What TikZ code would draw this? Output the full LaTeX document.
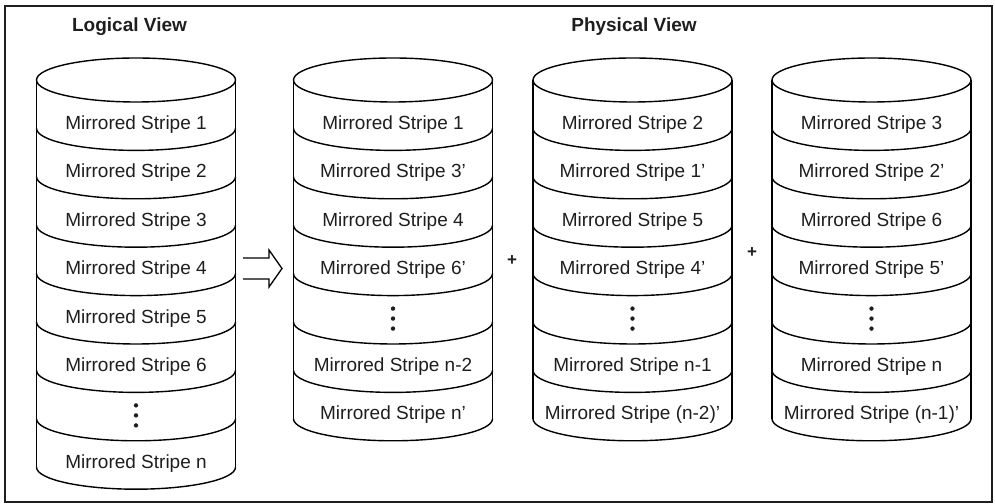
\documentclass[tikz,border=0pt]{standalone}
\usepackage{fontspec}
\setmainfont{Liberation Sans}
\definecolor{ink}{HTML}{1E1E1E}
\newcommand\drum[2]{% #1 centre x, #2 number of bands
  \draw[cyl] (#1,424) ellipse [x radius=99.5bp, y radius=22bp];
  \draw[cyl] (#1-99.5,424) -- ++(0,{-#2*48.4});
  \draw[cyl] (#1+99.5,424) -- ++(0,{-#2*48.4});
  \foreach \k in {1,...,#2}{%
    \draw[cyl] (#1-99.5,{424-\k*48.4}) arc[start angle=180,end angle=360,x radius=99.5bp,y radius=22bp];}
}
\newcommand\stripe[4]{\node[lbl] (#1) at (#2,{374.5-(#3-1)*48.4}) {#4};}
\newcommand\stripedots[3]{%
  \coordinate (#1) at (#2,{379-(#3-1)*48.4});
  \node[dotmark] (#1a) at ([yshift=10bp]#1) {};
  \node[dotmark] (#1b) at (#1) {};
  \node[dotmark] (#1c) at ([yshift=-10bp]#1) {};}
\begin{document}
\begin{tikzpicture}[x=1bp,y=1bp,
  cyl/.style={draw=black, line width=1.4bp},
  lbl/.style={anchor=base, inner sep=0pt, text=ink, font=\fontsize{19bp}{22bp}\selectfont},
  ttl/.style={anchor=base, inner sep=0pt, text=ink, font=\fontsize{19bp}{22bp}\selectfont\bfseries},
  plusmark/.style={inner sep=0pt, text=ink, font=\fontsize{17bp}{20bp}\selectfont\bfseries},
  dotmark/.style={circle, fill=ink, inner sep=0pt, minimum size=4.4bp}]
\useasboundingbox (0,0) rectangle (995,504);
\draw[line width=1.8bp, draw=ink] (5,2) rectangle (992,498);

% titles
\node[ttl] (tlog) at (129.5,472) {Logical View};
\node[ttl] (tphys) at (634,472) {Physical View};

% logical cylinder
\drum{136}{8}
\stripe{L1}{136}{1}{Mirrored Stripe 1}
\stripe{L2}{136}{2}{Mirrored Stripe 2}
\stripe{L3}{136}{3}{Mirrored Stripe 3}
\stripe{L4}{136}{4}{Mirrored Stripe 4}
\stripe{L5}{136}{5}{Mirrored Stripe 5}
\stripe{L6}{136}{6}{Mirrored Stripe 6}
\stripedots{L7}{136}{7}
\stripe{L8}{136}{8}{Mirrored Stripe n}

% physical cylinder 1
\drum{393}{7}
\stripe{A1}{393}{1}{Mirrored Stripe 1}
\stripe{A2}{393}{2}{Mirrored Stripe 3'}
\stripe{A3}{393}{3}{Mirrored Stripe 4}
\stripe{A4}{393}{4}{Mirrored Stripe 6'}
\stripedots{A5}{393}{5}
\stripe{A6}{393}{6}{Mirrored Stripe n-2}
\stripe{A7}{393}{7}{Mirrored Stripe n'}

% physical cylinder 2
\drum{632.5}{7}
\stripe{B1}{632.5}{1}{Mirrored Stripe 2}
\stripe{B2}{632.5}{2}{Mirrored Stripe 1'}
\stripe{B3}{632.5}{3}{Mirrored Stripe 5}
\stripe{B4}{632.5}{4}{Mirrored Stripe 4'}
\stripedots{B5}{632.5}{5}
\stripe{B6}{632.5}{6}{Mirrored Stripe n-1}
\stripe{B7}{632.5}{7}{Mirrored Stripe (n-2)'}

% physical cylinder 3
\drum{871.5}{7}
\stripe{C1}{871.5}{1}{Mirrored Stripe 3}
\stripe{C2}{871.5}{2}{Mirrored Stripe 2'}
\stripe{C3}{871.5}{3}{Mirrored Stripe 6}
\stripe{C4}{871.5}{4}{Mirrored Stripe 5'}
\stripedots{C5}{871.5}{5}
\stripe{C6}{871.5}{6}{Mirrored Stripe n}
\stripe{C7}{871.5}{7}{Mirrored Stripe (n-1)'}

% hollow arrow
\draw[line width=1.3bp, draw=black, line join=miter]
  (243,246) -- (269,246) -- (269,254) -- (282,235.5) -- (269,217) -- (269,225) -- (243,225);

% plus signs
\node[plusmark] (plus1) at (512,243) {+};
\node[plusmark] (plus2) at (752,251) {+};
\end{tikzpicture}
\end{document}
